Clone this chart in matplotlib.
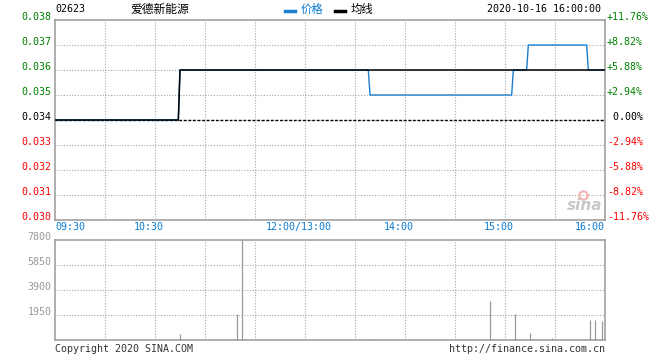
import matplotlib
matplotlib.use('Agg')
import matplotlib.pyplot as plt
import numpy as np
from matplotlib.transforms import blended_transform_factory

plt.rcParams['font.family'] = ['DejaVu Sans Mono', 'Noto Sans CJK SC']

# ---------------- data ----------------
code = "02623"
name = "爱德新能源"
timestamp = "2020-10-16 16:00:00"
prev_close = 0.034

# minute index from 09:30 (lunch removed, 330 trading minutes)
price_change_min = [0, 75, 189, 275, 284, 320]
price_levels = [0.034, 0.036, 0.035, 0.036, 0.037, 0.036]
avg_change_min = [0, 75]
avg_levels = [0.034, 0.036]

vol_min = [75, 109, 112, 189, 191, 261, 276, 285, 298, 321, 324, 328]
vol_val = [450, 2000, 7800, 60, 60, 3050, 2030, 550, 150, 1560, 1560, 1480]

price_ticks = [0.030, 0.031, 0.032, 0.033, 0.034, 0.035, 0.036, 0.037, 0.038]
pct_labels = ['-11.76%', '-8.82%', '-5.88%', '-2.94%', ' 0.00%',
              '+2.94%', '+5.88%', '+8.82%', '+11.76%']
time_tick_min = [0, 60, 150, 210, 270, 330]
time_labels = ['09:30', '10:30', '12:00/13:00', '14:00', '15:00', '16:00']
vol_ticks = [1950, 3900, 5850, 7800]
total_min = 330

# ---------------- styling ----------------
W, H = 660, 360
GREEN = '#008000'
RED = '#ff0000'
BLUE = '#1a7fd0'
TBLUE = '#0a7ad0'
GRID = '#a8a8a8'
BORDER = '#999999'
FS = 7.2

fig = plt.figure(figsize=(W / 100, H / 100), dpi=100)
fig.patch.set_facecolor('white')

def fx(x):
    return x / W

def fy(y):
    return 1 - y / H

L, R = 55, 605
ax1 = fig.add_axes([fx(L), fy(220), (R - L) / W, 200 / H])
ax2 = fig.add_axes([fx(L), fy(340), (R - L) / W, 100 / H])

minutes = np.arange(0, total_min + 1)
idx_p = np.searchsorted(price_change_min, minutes, side='right') - 1
price = np.array(price_levels)[idx_p]
idx_a = np.searchsorted(avg_change_min, minutes, side='right') - 1
avg = np.array(avg_levels)[idx_a]

for ax in (ax1, ax2):
    ax.set_xlim(0, total_min)
    for s in ax.spines.values():
        s.set_color(BORDER)
        s.set_linewidth(1.1)
    ax.set_xticks([])
    ax.set_yticks([])
    for m in range(30, total_min, 30):
        ax.axvline(m, color=GRID, lw=0.8, linestyle=(0, (1, 1.5)), zorder=0)

ax1.set_ylim(price_ticks[0], price_ticks[-1])
for t in price_ticks[1:-1]:
    ax1.axhline(t, color=GRID, lw=0.8, linestyle=(0, (1, 1.5)), zorder=0)

ax1.axhline(prev_close, color='black', lw=1.0, linestyle=(0, (2, 1.3)), zorder=1)
ax1.plot(minutes, price, color=BLUE, lw=1.0, zorder=2)
ax1.plot(minutes, avg, color='black', lw=1.1, zorder=3)

# left & right price labels
tl = blended_transform_factory(fig.transFigure, ax1.transData)
for t, pl in zip(price_ticks, pct_labels):
    if abs(t - prev_close) < 1e-9:
        c = 'black'
    elif t > prev_close:
        c = GREEN
    else:
        c = RED
    fig.text(fx(51.5), t, f"{t:.3f}", transform=tl, ha='right', va='baseline',
             color=c, fontsize=FS)
    fig.text(fx(607), t, pl, transform=tl, ha='left', va='baseline',
             color=c, fontsize=FS)

# time labels
for m, lab in zip(time_tick_min, time_labels):
    x = L + m * (R - L) / total_min
    if m == 0:
        fig.text(fx(x), fy(227), lab, ha='left', va='center', color=TBLUE, fontsize=FS)
    elif m == total_min:
        fig.text(fx(x), fy(227), lab, ha='right', va='center', color=TBLUE, fontsize=FS)
    else:
        fig.text(fx(x - 6), fy(227), lab, ha='center', va='center', color=TBLUE, fontsize=FS)

# volume panel
ax2.set_ylim(0, vol_ticks[-1])
for t in vol_ticks[:-1]:
    ax2.axhline(t, color=GRID, lw=0.8, linestyle=(0, (1, 1.5)), zorder=0)
ax2.vlines(vol_min, 0, vol_val, color='#999999', lw=0.9, zorder=2)
tv = blended_transform_factory(fig.transFigure, ax2.transData)
for t in vol_ticks:
    fig.text(fx(51.5), t, str(t), transform=tv, ha='right', va='baseline',
             color='#999999', fontsize=FS)

# header
fig.text(fx(55), fy(9), code, ha='left', va='center', color='black', fontsize=FS)
fig.text(fx(130), fy(9.5), name, ha='left', va='center', color='black', fontsize=8.5,
         family=['Noto Sans CJK SC', 'DejaVu Sans'])
fig.add_artist(plt.Line2D([fx(285), fx(295)], [fy(11), fy(11)], color=BLUE, lw=2.5))
fig.text(fx(301), fy(9.5), '价格', ha='left', va='center', color=TBLUE, fontsize=8.2,
         family=['Noto Sans CJK SC', 'DejaVu Sans'])
fig.add_artist(plt.Line2D([fx(335), fx(345)], [fy(11), fy(11)], color='black', lw=2.5))
fig.text(fx(350.5), fy(9.5), '均线', ha='left', va='center', color='black', fontsize=8.2,
         family=['Noto Sans CJK SC', 'DejaVu Sans'])
fig.text(fx(601), fy(9), timestamp, ha='right', va='center', color='black', fontsize=FS)

# footer
fig.text(fx(55), fy(349), 'Copyright 2020 SINA.COM', ha='left', va='center',
         color='#333333', fontsize=FS)
fig.text(fx(605), fy(349), 'http://finance.sina.com.cn', ha='right', va='center',
         color='#333333', fontsize=FS)

# watermark (sina logo)
fig.add_artist(plt.Line2D([fx(583)], [fy(195)], marker='o', markersize=6,
                          markerfacecolor='none', markeredgecolor='#f2b6b6',
                          markeredgewidth=1.6, linestyle='none'))
fig.text(fx(585), fy(205), 'sina', ha='center', va='center', color='#c8c8c8',
         fontsize=11, style='italic', fontweight='bold', family='DejaVu Sans')

fig.savefig('out.png', dpi=100, facecolor='white')
